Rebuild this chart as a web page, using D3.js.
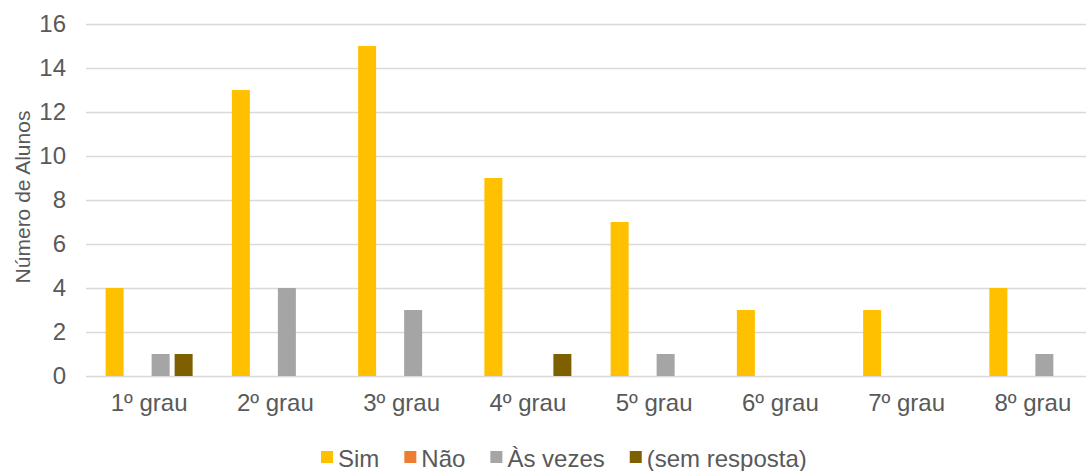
<!DOCTYPE html>
<html>
<head>
<meta charset="utf-8">
<script src="https://cdn.jsdelivr.net/npm/d3@7"></script>
<style>
  body { margin: 0; background: #fff; }
  svg { display: block; font-family: "Liberation Sans", Arial, sans-serif; }
</style>
</head>
<body>
<svg id="chart" width="1086" height="471"></svg>
<script>
// Categories and series values
const categories = ["1º grau", "2º grau", "3º grau", "4º grau", "5º grau", "6º grau", "7º grau", "8º grau"];
const seriesNames = ["Sim", "Não", "Às vezes", "(sem resposta)"];
const sim        = [4, 13, 15, 9, 7, 3, 3, 4];
const nao        = [0, 0, 0, 0, 0, 0, 0, 0];
const asVezes    = [1, 4, 3, 0, 1, 0, 0, 1];
const semResposta = [1, 0, 0, 1, 0, 0, 0, 0];
const yTicks = [0, 2, 4, 6, 8, 10, 12, 14, 16];
const colors = ["#FFC000", "#ED7D31", "#A5A5A5", "#7F6000"];

const seriesValues = [sim, nao, asVezes, semResposta];

const svg = d3.select("#chart");
const textColor = "#595959";
const fontFamily = "Liberation Sans, Arial, sans-serif";

const x0 = d3.scaleBand().domain(categories).range([86, 1096]).padding(0);
const groupWidth = 87;
const x1 = d3.scaleBand().domain(seriesNames).range([0, groupWidth]).paddingInner(5 / 23).paddingOuter(0);
const y = d3.scaleLinear().domain([0, 16]).range([376, 24]);

// Gridlines
svg.append("g")
  .selectAll("line")
  .data(yTicks)
  .join("line")
  .attr("x1", 86).attr("x2", 1096)
  .attr("y1", d => y(d) + 0.5).attr("y2", d => y(d) + 0.5)
  .attr("stroke", "#D9D9D9").attr("stroke-width", 1.3);

// Y axis tick labels
const yAxis = d3.axisLeft(y).tickValues(yTicks).tickSize(0).tickPadding(0);
const gy = svg.append("g").attr("transform", "translate(66,0)").call(yAxis)
  .attr("font-size", 24).attr("font-family", fontFamily);
gy.select(".domain").remove();
gy.selectAll("text").attr("fill", textColor);

// Y axis title
svg.append("text")
  .attr("transform", "translate(30,197) rotate(-90)")
  .attr("text-anchor", "middle")
  .attr("fill", textColor)
  .attr("font-size", 21)
  .text("Número de Alunos");

// Bars
const groups = svg.append("g")
  .selectAll("g")
  .data(categories)
  .join("g")
  .attr("transform", d => `translate(${x0(d) + (x0.bandwidth() - groupWidth) / 2},0)`);

groups.selectAll("rect")
  .data((c, i) => seriesNames.map((s, k) => ({ s, k, v: seriesValues[k][i] })))
  .join("rect")
  .filter(d => d.v > 0)
  .attr("x", d => x1(d.s))
  .attr("width", x1.bandwidth())
  .attr("y", d => y(d.v))
  .attr("height", d => y(0) - y(d.v))
  .attr("fill", d => colors[d.k]);

// X axis labels
const xAxis = d3.axisBottom(x0).tickSize(0).tickPadding(0);
const gx = svg.append("g").attr("transform", "translate(0,394)").call(xAxis)
  .attr("font-size", 24).attr("font-family", fontFamily);
gx.select(".domain").remove();
gx.selectAll("text").attr("fill", textColor);

// Legend
const legend = svg.append("g").attr("transform", "translate(321,0)");
let lx = 0;
seriesNames.forEach((name, k) => {
  const g = legend.append("g").attr("transform", `translate(${lx},0)`);
  g.append("rect").attr("x", 0).attr("y", 451).attr("width", 12).attr("height", 12).attr("fill", colors[k]);
  const t = g.append("text").attr("x", 17).attr("y", 467)
    .attr("fill", textColor).attr("font-size", 24).text(name);
  lx += 17 + t.node().getComputedTextLength() + 25;
});
</script>
</body>
</html>
